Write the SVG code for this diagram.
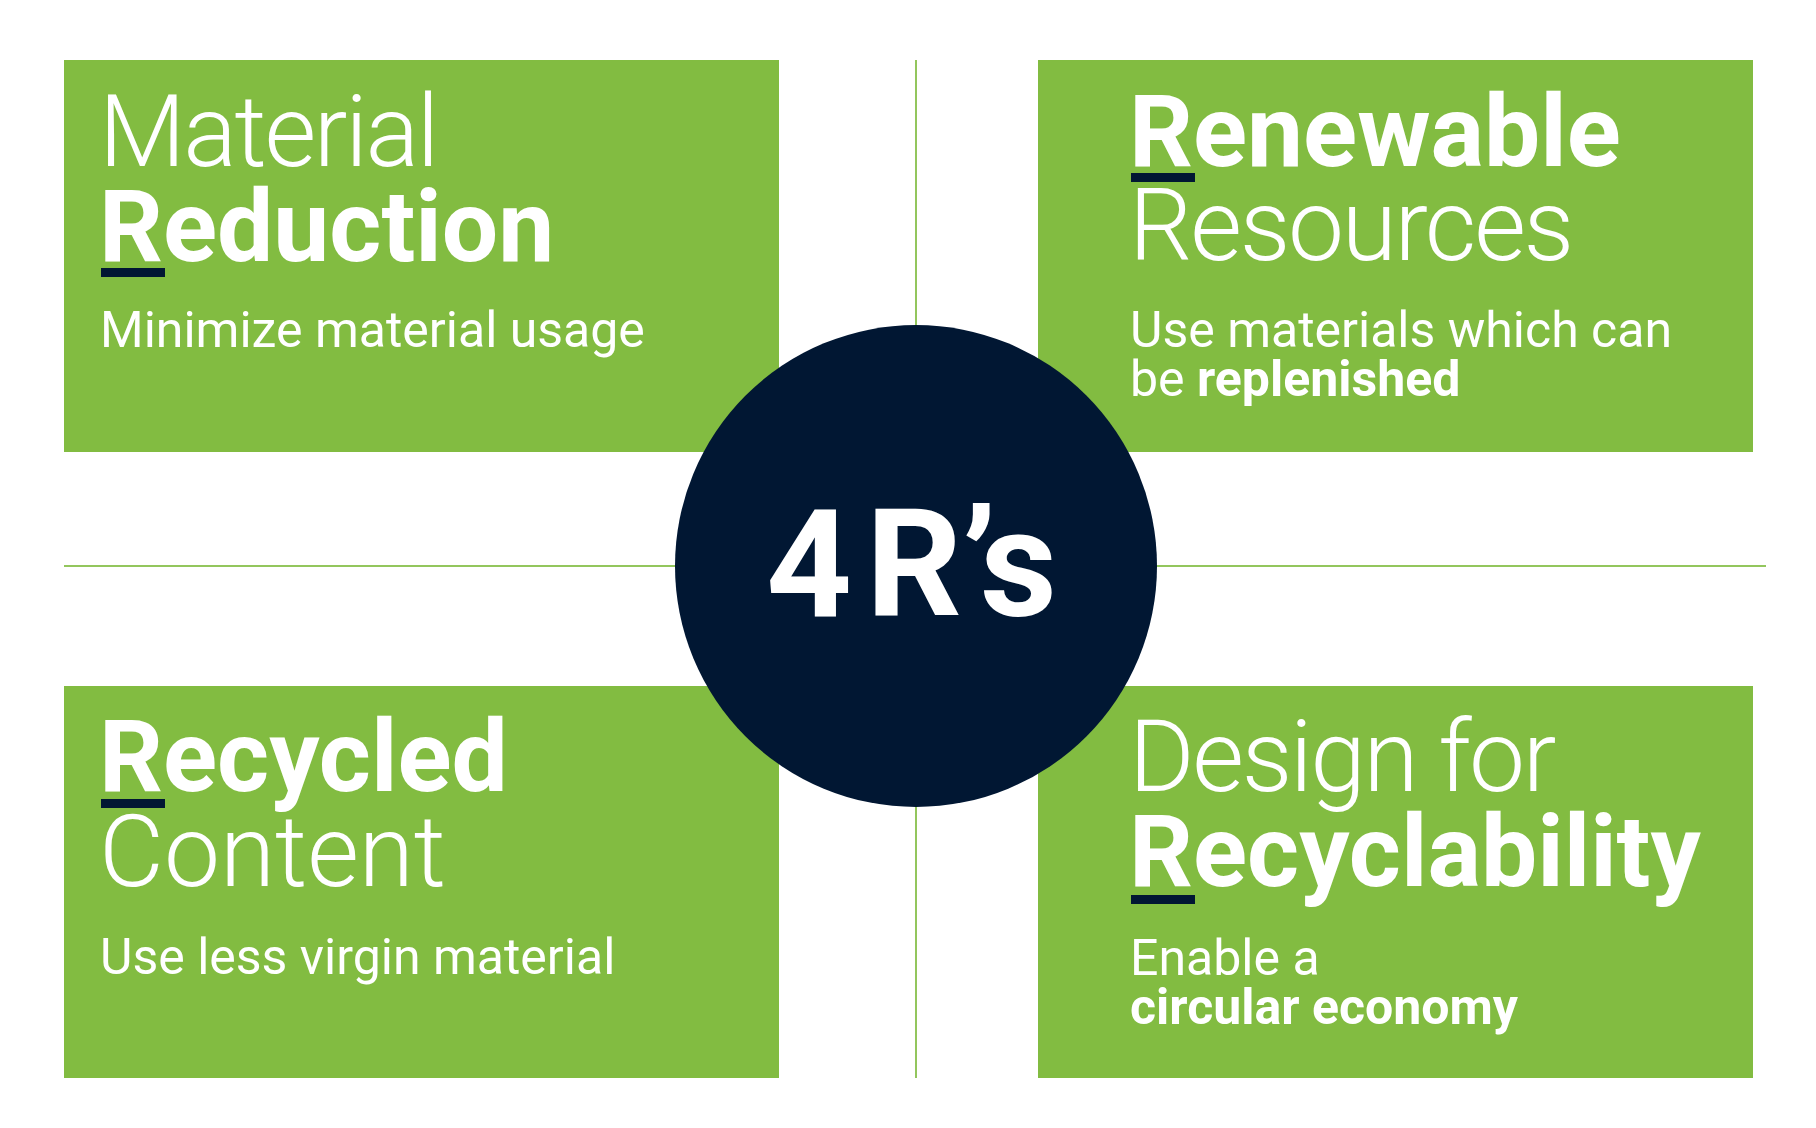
<svg xmlns="http://www.w3.org/2000/svg" width="1816" height="1128" viewBox="0 0 1816 1128">
<style>
.bg{fill:#ffffff}
.box{fill:#82bc41}
.bar{fill:#011733}
.line{stroke:#93c65d;stroke-width:2;fill:none}
.hub{fill:#011733}
text{font-family:Roboto,"Liberation Sans",sans-serif;fill:#ffffff}
.hl{font-size:100px;font-weight:300}
.tight{letter-spacing:-2.3px}
.hb{font-size:100px;font-weight:700}
.sub{font-size:50px;font-weight:400}
.b{font-weight:700}
.hubtxt{font-size:150px;font-weight:700}
</style>
<rect class="bg" x="0" y="0" width="1816" height="1128"/>
<g id="connectors">
<line class="line" x1="916" y1="60" x2="916" y2="1078"/>
<line class="line" x1="64" y1="566" x2="1766" y2="566"/>
</g>
<g id="material-reduction">
<rect class="box" x="64" y="60" width="715" height="392"/>
<text class="hl tight" x="99" y="166">Material</text>
<text class="hb" x="99" y="261">Reduction</text>
<rect class="bar" x="101" y="268" width="64" height="9"/>
<text class="sub" x="100" y="347">Minimize material usage</text>
</g>
<g id="renewable-resources">
<rect class="box" x="1038" y="60" width="715" height="392"/>
<text class="hb" x="1129" y="166">Renewable</text>
<rect class="bar" x="1131" y="173" width="64" height="9"/>
<text class="hl tight" x="1129" y="260">Resources</text>
<text class="sub" x="1130" y="347">Use materials which can</text>
<text class="sub" x="1130" y="396">be <tspan class="b">replenished</tspan></text>
</g>
<g id="recycled-content">
<rect class="box" x="64" y="686" width="715" height="392"/>
<text class="hb" x="99" y="791">Recycled</text>
<rect class="bar" x="101" y="799" width="64" height="9"/>
<text class="hl" x="99" y="886">Content</text>
<text class="sub" x="100" y="974">Use less virgin material</text>
</g>
<g id="design-for-recyclability">
<rect class="box" x="1038" y="686" width="715" height="392"/>
<text class="hl tight" x="1129" y="791">Design for</text>
<text class="hb" x="1129" y="886">Recyclability</text>
<rect class="bar" x="1131" y="895" width="64" height="9"/>
<text class="sub" x="1130" y="975">Enable a</text>
<text class="sub b" x="1130" y="1024">circular economy</text>
</g>
<g id="hub-4rs">
<circle class="hub" cx="916" cy="566" r="241"/>
<text class="hubtxt" y="616"><tspan x="766">4</tspan><tspan x="866">R</tspan><tspan x="962">’</tspan><tspan x="980">s</tspan></text>
</g>
</svg>
